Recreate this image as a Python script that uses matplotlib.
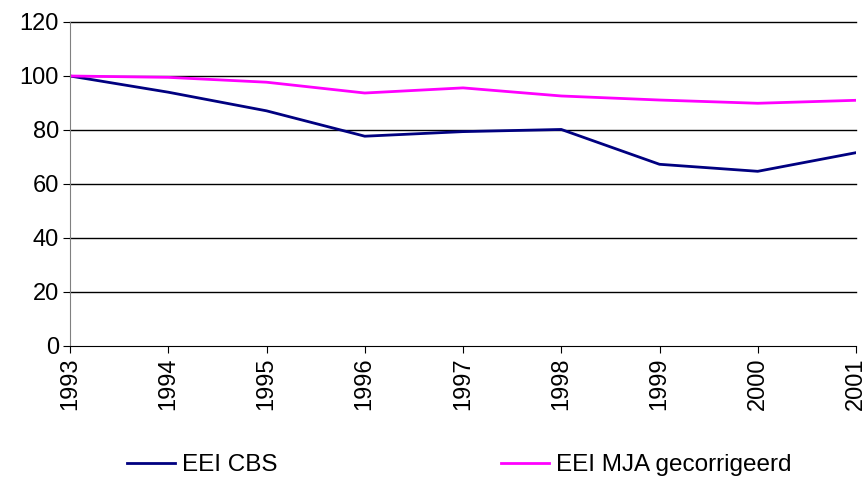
import matplotlib
matplotlib.use("Agg")
import matplotlib.pyplot as plt

years = ["1993", "1994", "1995", "1996", "1997", "1998", "1999", "2000", "2001"]
eei_cbs = [100, 94.0, 87.1, 77.7, 79.4, 80.2, 67.3, 64.7, 71.6]
eei_mja = [100, 99.5, 97.7, 93.7, 95.6, 92.6, 91.1, 89.9, 91.0]

plt.rcParams['font.family'] = ['Liberation Sans', 'DejaVu Sans']

fig = plt.figure(figsize=(8.67, 4.84), dpi=100)
ax = fig.add_axes([70/867, 1 - 346/484, 786/867, 324/484])

x = list(range(len(years)))
ax.plot(x, eei_cbs, color='#000080', lw=2, label='EEI CBS')
ax.plot(x, eei_mja, color='#FF00FF', lw=2, label='EEI MJA gecorrigeerd')

ax.set_xlim(0, len(years) - 1)
ax.set_ylim(0, 120)
ax.set_yticks(range(0, 121, 20))
ax.set_xticks(x)
ax.set_xticklabels(years, rotation=90)
for yv in range(20, 121, 20):
    ax.axhline(yv, color='black', lw=1, zorder=0, clip_on=False)

for s in ['top', 'right']:
    ax.spines[s].set_visible(False)
ax.spines['left'].set_color('#808080')
ax.spines['bottom'].set_color('black')
ax.tick_params(axis='both', labelsize=17, length=5, direction='out', pad=3)

fig.legend(loc='center', bbox_to_anchor=(0.53, 1 - 465/484), ncol=2,
           frameon=False, fontsize=17.5, columnspacing=9.2, handlelength=1.98,
           handletextpad=0.29)

fig.savefig('out.png', dpi=100)
